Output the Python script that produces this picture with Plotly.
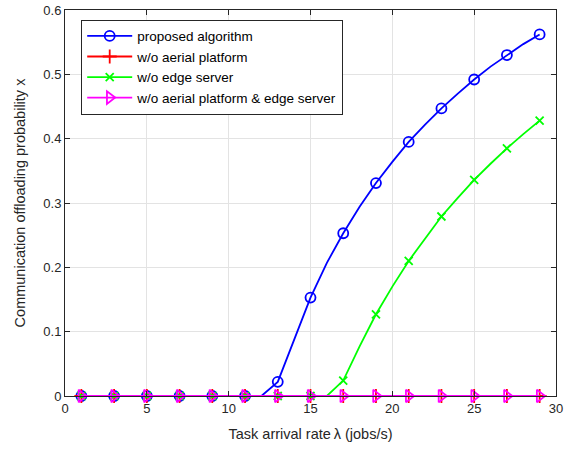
import plotly.graph_objects as go

x = list(range(1, 30))
# values at integer task arrival rates 1..29 (markers drawn at odd rates)
proposed = [0, 0, 0, 0, 0, 0, 0, 0, 0, 0, 0, 0, 0.022, 0.088, 0.153, 0.207, 0.253, 0.294,
            0.331, 0.364, 0.395, 0.422, 0.447, 0.470, 0.492, 0.512, 0.530, 0.547, 0.562]
no_aerial = [0] * 29
no_edge = [0, 0, 0, 0, 0, 0, 0, 0, 0, 0, 0, 0, 0, 0, 0, 0, 0.024, 0.077, 0.127, 0.170,
           0.210, 0.245, 0.279, 0.308, 0.336, 0.361, 0.385, 0.407, 0.428]
no_both = [0] * 29

names = ["proposed algorithm", "w/o aerial platform", "w/o edge server",
         "w/o aerial platform & edge server"]
colors = ["#0000ff", "#ff0000", "#00ff00", "#ff00ff"]
symbols = ["circle-open", "cross-thin-open", "x-thin-open", "triangle-right-open"]
sizes = [10, 10, 8, 11]
series = [proposed, no_aerial, no_edge, no_both]

fig = go.Figure()
for name, c, s, sz, y in zip(names, colors, symbols, sizes, series):
    fig.add_trace(go.Scatter(x=x, y=y, mode="lines", line=dict(color=c, width=1.8),
                             showlegend=False, hoverinfo="skip", cliponaxis=False))
    xm = x[::2]
    ym = y[::2]
    fig.add_trace(go.Scatter(x=xm, y=ym, mode="markers", cliponaxis=False,
                             marker=dict(symbol=s, size=sz, color=c,
                                         line=dict(color=c, width=1.8)),
                             showlegend=False))
for name, c, s, sz in zip(names, colors, symbols, sizes):
    fig.add_trace(go.Scatter(x=[None], y=[None], mode="lines+markers", name=name,
                             line=dict(color=c, width=1.8),
                             marker=dict(symbol=s, size=sz, color=c,
                                         line=dict(color=c, width=1.8))))

axis_common = dict(showgrid=True, gridcolor="#e3e3e3", gridwidth=1,
                   showline=True, linecolor="#262626", linewidth=1, mirror="ticks",
                   ticks="inside", ticklen=5, tickcolor="#262626", zeroline=False,
                   tickfont=dict(size=13, color="#262626"), automargin=False)

fig.update_layout(
    width=580, height=450,
    margin=dict(l=65, r=24, t=10, b=54, autoexpand=False),
    paper_bgcolor="white", plot_bgcolor="white",
    font=dict(family="Liberation Sans, Arial, sans-serif", color="#262626"),
    xaxis=dict(range=[0, 30], dtick=5, tick0=0,
               title=dict(text="Task arrival rate\u2009λ (jobs/s)", font=dict(size=14.5), standoff=14),
               **axis_common),
    yaxis=dict(range=[0, 0.6], dtick=0.1, tick0=0,
               title=dict(text="Communication offloading probability x", font=dict(size=14.5), standoff=14),
               **axis_common),
    legend=dict(x=0.033, y=0.975, xanchor="left", yanchor="top",
                bgcolor="white", bordercolor="#262626", borderwidth=1,
                font=dict(size=13.5, color="#000000"), tracegroupgap=0,
                itemwidth=45),
    showlegend=True,
)

fig.write_html("out.html")
